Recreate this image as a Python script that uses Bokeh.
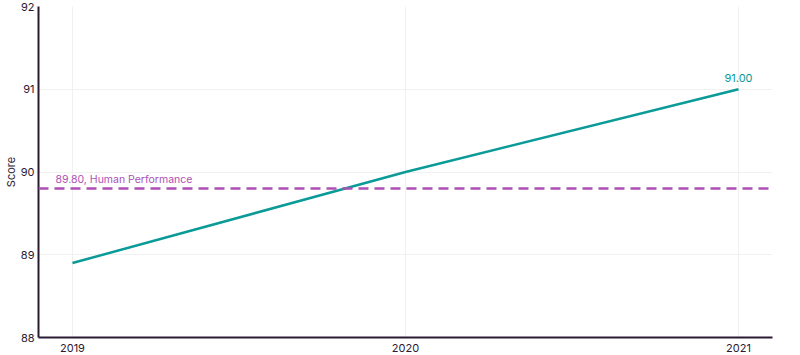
from bokeh.plotting import figure
from bokeh.models import FixedTicker, Span, Label, Range1d
from bokeh.embed import file_html
from bokeh.resources import INLINE

years = [2019, 2020, 2021]
scores = [88.90, 90.00, 91.00]
human_perf = 89.80
y_ticks = [88, 89, 90, 91, 92]

TEAL = "#0a9a97"
PURPLE = "#ad4fb5"
AXIS = "#2a1a33"
FONT = "Inter"

p = figure(width=800, height=355, output_backend="svg", toolbar_location=None,
           x_range=Range1d(2018.898, 2021.102), y_range=Range1d(88, 92),
           min_border_left=10, min_border_right=28, min_border_top=6, min_border_bottom=18)
p.outline_line_color = None

p.line(years, scores, line_color=TEAL, line_width=2.5)

span = Span(location=human_perf, dimension="width", line_color=PURPLE,
            line_dash="10 6", line_width=2.5)
p.add_layout(span)

p.add_layout(Label(x=years[0], y=human_perf, text=f"{human_perf:.2f}, Human Performance",
                   x_offset=-17, y_offset=3, text_color=PURPLE, text_font_size="10.5px",
                   text_font=FONT))
p.add_layout(Label(x=years[-1], y=scores[-1], text=f"{scores[-1]:.2f}",
                   x_offset=0, y_offset=7, text_align="center", text_color=TEAL,
                   text_font_size="11px", text_font=FONT))

for ax in (p.xaxis[0], p.yaxis[0]):
    ax.axis_line_color = AXIS
    ax.axis_line_width = 2
    ax.major_tick_line_color = None
    ax.minor_tick_line_color = None
    ax.major_label_text_font = FONT
    ax.major_label_text_font_size = "11px"
    ax.major_label_text_color = AXIS
    ax.major_tick_out = 0
    ax.major_tick_in = 0

p.xaxis.ticker = FixedTicker(ticks=years)
p.xaxis.major_label_standoff = 6
p.yaxis.ticker = FixedTicker(ticks=y_ticks)
p.yaxis.major_label_standoff = 4
p.yaxis.axis_label = "Score"
p.yaxis.axis_label_text_font = FONT
p.yaxis.axis_label_text_font_size = "11px"
p.yaxis.axis_label_text_font_style = "normal"
p.yaxis.axis_label_text_color = AXIS
p.yaxis.axis_label_standoff = 0

p.xgrid.grid_line_color = "#f0f0f0"
p.ygrid.grid_line_color = "#f0f0f0"

open("out.html", "w").write(file_html(p, INLINE))
